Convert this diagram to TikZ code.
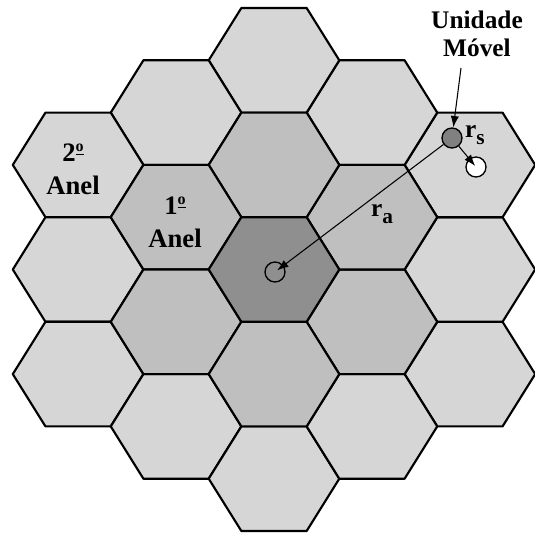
\documentclass[tikz,border=0pt]{standalone}
\usepackage{fontspec}
\setmainfont{Liberation Serif}[BoldFont={Liberation Serif Bold}]
\usepackage{tikz}
\usetikzlibrary{arrows.meta,positioning}
\definecolor{ringouter}{gray}{0.84}
\definecolor{ringinner}{gray}{0.75}
\definecolor{cellcore}{gray}{0.56}

% underlined ordinal mark
\newcommand{\ordo}{\raisebox{0.75ex}{\fontsize{12}{12}\selectfont\underline{o}}}

% one hexagonal cell: #1 style, #2 column q, #3 row r
\newcommand{\hexcell}[3]{%
  \pgfmathsetmacro{\hx}{274+97.95*(#2)}%
  \pgfmathsetmacro{\hy}{269.5+104.6*((#3)+(#2)/2)}%
  \draw[#1] (\hx-65.3,\hy) -- ++(32.65,-52.3) -- ++(65.3,0) -- ++(32.65,52.3)
    -- ++(-32.65,52.3) -- ++(-65.3,0) -- cycle;}

\begin{document}
\begin{tikzpicture}[x=0.75pt, y=-0.75pt,
    every node/.style={font=\rmfamily\bfseries},
    cellline/.style={draw=black, line width=1.6pt, line join=round},
    outercell/.style={cellline, fill=ringouter},
    innercell/.style={cellline, fill=ringinner},
    corecell/.style={cellline, fill=cellcore},
    ptr/.style={-{Latex[length=3mm, width=2.2mm]}, line width=0.8pt}]
    \useasboundingbox (0,0) rectangle (535,546);
    \fill[white] (0,0) rectangle (535,546);
    % second ring
    \foreach \q/\r in {2/0, 2/-1, 2/-2, 1/-2, 0/-2, -1/-1, -2/0, -2/1, -2/2, -1/2, 0/2, 1/1}
      {\hexcell{outercell}{\q}{\r}}
    % first ring
    \foreach \q/\r in {1/0, 1/-1, 0/-1, -1/0, -1/1, 0/1}
      {\hexcell{innercell}{\q}{\r}}
    \hexcell{corecell}{0}{0}
    % labels of the rings
    \node[font=\rmfamily\bfseries\fontsize{20}{25}\selectfont, align=center] (anel2) at (73,169) {2\ordo\\Anel};
    \node[font=\rmfamily\bfseries\fontsize{20}{25}\selectfont, align=center] (anel1) at (175,222) {1\ordo\\Anel};
    % base station and mobile unit
    \node[draw, circle, line width=1pt, minimum size=15pt, inner sep=0pt] (bs) at (275,272) {};
    \node[draw, circle, line width=1pt, fill=black!50, minimum size=15pt, inner sep=0pt] (mob) at (452,138) {};
    \node[draw, circle, line width=1pt, fill=white, minimum size=15pt, inner sep=0pt] (dest) at (476,167) {};
    \node[font=\rmfamily\bfseries\fontsize{19}{21}\selectfont, align=center] (lbl) at (477,34) {Unidade\\Móvel};
    \coordinate (tail) at (461,68);
    \draw[ptr] (tail) -- (mob);
    \draw[ptr, shorten >=2pt] (mob) -- (bs.center);
    \draw[ptr, shorten >=1pt] (mob) -- (dest.center);
    \node[font=\rmfamily\bfseries\fontsize{19}{19}\selectfont] (ra) at (382,214) {r\raisebox{-5pt}{\fontsize{16}{16}\selectfont a}};
    \node[font=\rmfamily\bfseries\fontsize{19}{19}\selectfont] (rs) at (475,135) {r\raisebox{-5pt}{\fontsize{16}{16}\selectfont s}};
  \end{tikzpicture}
\end{document}
